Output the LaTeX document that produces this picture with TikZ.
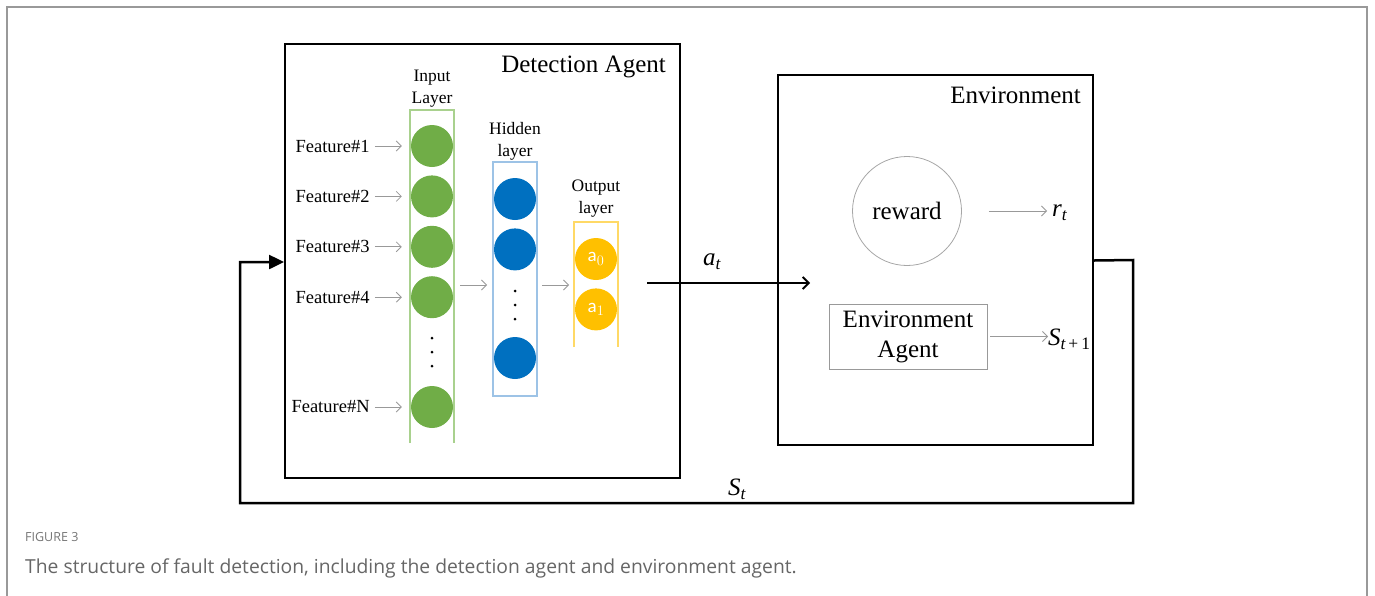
\documentclass[tikz,border=0pt]{standalone}
\usepackage{fontspec}
\setmainfont{Liberation Serif}
\newfontfamily\capfont{Open Sans}
\newfontfamily\outfont{Carlito}
\usetikzlibrary{positioning, arrows.meta}
\definecolor{ingreen}{HTML}{70AD47}
\definecolor{inframe}{HTML}{A9D18E}
\definecolor{hidblue}{HTML}{0070C0}
\definecolor{hidframe}{HTML}{9DC3E6}
\definecolor{outyellow}{HTML}{FFC000}
\definecolor{outframe}{HTML}{FFD966}
\definecolor{framegray}{HTML}{999999}
\definecolor{capgray}{HTML}{666666}

\begin{document}
\begin{tikzpicture}[
        x=1pt, y=-1pt,
        node distance=8pt,
        every node/.style={inner sep=0pt},
        feat/.style={font=\fontsize{18.5}{18.5}\selectfont, anchor=east},
        layertitle/.style={font=\fontsize{17.5}{22}\selectfont, align=center},
        bigtext/.style={font=\fontsize{25}{30}\selectfont},
        symtext/.style={font=\fontsize{25}{25}\selectfont\itshape},
        innode/.style={circle, fill=ingreen, minimum size=42pt},
        hidnode/.style={circle, fill=hidblue, minimum size=42pt},
        outnode/.style={circle, fill=outyellow, minimum size=42pt, text=white, font=\outfont\fontsize{19}{19}\selectfont},
        dotnode/.style={circle, fill=black, minimum size=3pt},
        frame/.style={draw=black, line width=2pt},
        smallarrow/.style={-{Straight Barb[length=5pt, width=10pt]}, draw=gray!80, line width=0.8pt},
        edge/.style={-{Straight Barb[length=6pt, width=12pt]}, line width=1.8pt}
    ]
        \useasboundingbox (0,0) rectangle (1375,595);
        % Outer frame
        \draw[framegray, line width=2pt] (7,600) -- (7,7) -- (1367,7) -- (1367,600);
        % Agent and environment boxes
        \node[frame, minimum width=395pt, minimum height=434pt] (det) at (482.5,261) {};
        \node[frame, minimum width=315pt, minimum height=370pt] (env) at (935.5,260) {};
        \node[bigtext, anchor=north east] at (666,56) {Detection Agent};
        \node[bigtext, anchor=north east] at (1081,87) {Environment};
        % Input layer
        \draw[inframe, line width=1.3pt] (410,443) -- (410,110) -- (454,110) -- (454,443);
        \node[layertitle] at (432,89) {Input\\Layer};
        \node[innode] (in1) at (432,146) {};
        \node[innode, below=of in1] (in2) {};
        \node[innode, below=of in2] (in3) {};
        \node[innode, below=of in3] (in4) {};
        \node[innode] (inN) at (432,407) {};
        \node[dotnode] (ind1) at (432,338) {};
        \node[dotnode] (ind2) at (432,352) {};
        \node[dotnode] (ind3) at (432,366) {};
        % Features
        \foreach \i/\t in {1/1, 2/2, 3/3, 4/4, N/N} {
            \node[feat, left=41pt of in\i] (f\i) {Feature\#\t};
            \draw[smallarrow] ([xshift=5pt]f\i.east) -- ([xshift=-9pt]in\i.west);
        }
        % Hidden layer
        \draw[hidframe, line width=1.3pt] (493,162) rectangle (537,396);
        \node[layertitle] at (515,141) {Hidden\\layer};
        \node[hidnode] (hid1) at (515,199) {};
        \node[hidnode, below=of hid1] (hid2) {};
        \node[hidnode] (hid3) at (515,358) {};
        \node[dotnode] (hidd1) at (515,291) {};
        \node[dotnode] (hidd2) at (515,305) {};
        \node[dotnode] (hidd3) at (515,319) {};
        % Output layer
        \draw[outframe, line width=1.3pt] (574,347) -- (574,222) -- (618,222) -- (618,347);
        \node[layertitle] at (596,199) {Output\\layer};
        \node[outnode] (out0) at (596,259) {a$_0$};
        \node[outnode, below=of out0] (out1) {a$_1$};
        % Layer to layer arrows
        \coordinate (inright) at (460,285);
        \coordinate (hidleft) at (487,285);
        \coordinate (hidright) at (542,285);
        \coordinate (outleft) at (569,285);
        \draw[smallarrow] (inright) -- (hidleft);
        \draw[smallarrow] (hidright) -- (outleft);
        % Action
        \coordinate (actstart) at (647,283);
        \coordinate (actend) at (810,283);
        \draw[edge] (actstart) -- (actend);
        \node[symtext] at (712,262) {a\textsubscript{t}};
        % Environment content
        \node[circle, draw=gray!70, line width=0.8pt, minimum size=109pt, bigtext] (reward) at (907,211) {reward};
        \node[symtext, anchor=west] (rt) at (1052,213) {r\textsubscript{t}};
        \draw[smallarrow] ([xshift=27pt]reward.east) -- ([xshift=-5pt]rt.west |- reward.east);
        \node[draw=gray!80, line width=0.9pt, minimum width=158pt, minimum height=65pt, bigtext, align=center] (envagent) at (908,336.5) {Environment\\Agent};
        \node[symtext, anchor=west] (st1) at (1048,339) {S\textsubscript{t\,\upshape+\,1}};
        \draw[smallarrow] ([xshift=3pt]envagent.east) -- (st1.west |- envagent.east);
        % Feedback state
        \draw[line width=2.5pt, -{Triangle[length=15pt, width=14pt]}] ([yshift=-0.5pt]env.east |- 0,260) -- (1133,260) -- (1133,503) -- (240,503) -- (240,262) -- (det.west |- 0,262);
        \node[symtext] at (737,489) {S\textsubscript{t}};
        % Caption
        \node[anchor=base west, text=capgray!90, font=\capfont\fontsize{12.5}{12.5}\selectfont] (figno) at (25,541) {FIGURE 3};
        \node[anchor=base west, text=capgray, font=\capfont\fontsize{19.3}{19.3}\selectfont] (caption) at (25,573) {The structure of fault detection, including the detection agent and environment agent.};
    \end{tikzpicture}
\end{document}
